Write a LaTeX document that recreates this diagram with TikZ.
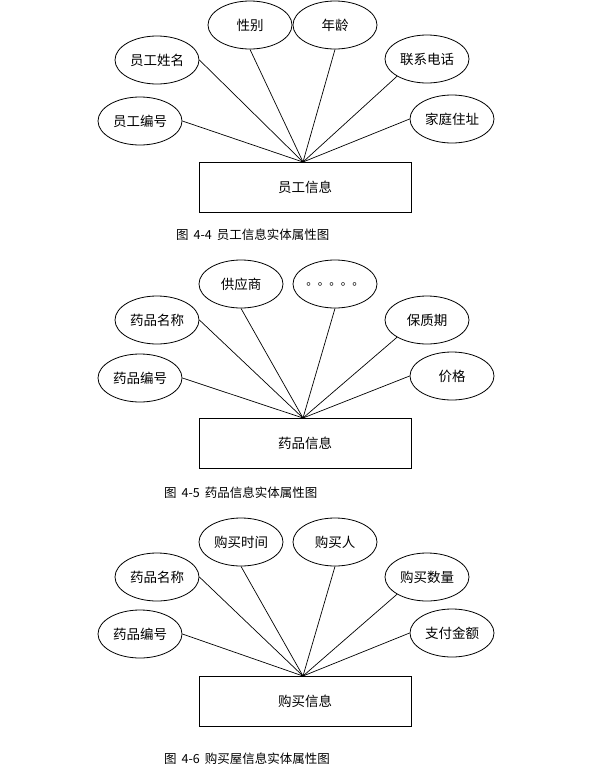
\documentclass[tikz,border=0pt]{standalone}
\usepackage{fontspec}
\newfontfamily\cjk{Noto Sans CJK SC}
\usetikzlibrary{shapes.geometric}
\begin{document}
\begin{tikzpicture}[x=1pt,y=-1pt,
  attr/.style={draw, ellipse, line width=0.8pt, minimum width=84pt, minimum height=48pt, inner sep=0pt, font=\cjk\fontsize{13.5}{14}\selectfont},
  ent/.style={draw, rectangle, line width=0.8pt, minimum width=212pt, minimum height=50pt, inner sep=0pt, font=\cjk\fontsize{13.5}{14}\selectfont},
  figcap/.style={anchor=west, inner sep=0pt, font=\cjk\fontsize{12.5}{13}\selectfont},
  conn/.style={line width=0.7pt}]
\useasboundingbox (0,0) rectangle (600,772);
\fill[white] (0,0) rectangle (600,772);

% ---------- Figure 4-4 ----------
\node[attr] (a1) at (250,25) {性别};
\node[attr] (a2) at (335,25) {年龄};
\node[attr] (a3) at (157,60) {员工姓名};
\node[attr] (a4) at (427,59) {联系电话};
\node[attr] (a5) at (140,121) {员工编号};
\node[attr] (a6) at (452,119) {家庭住址};
\node[ent] (e1) at (305,187) {员工信息};
\coordinate (p1) at (303,162);
\draw[conn] (a1.south) -- (p1);
\draw[conn] (a2.south) -- (p1);
\draw[conn] (a3.east) -- (p1);
\draw[conn] (a4.south west) -- (p1);
\draw[conn] (a5.east) -- (p1);
\draw[conn] (a6.west) -- (p1);
\node[figcap] (c1) at (176,235) {图\hspace{5pt}4-4\hspace{5pt}员工信息实体属性图};

% ---------- Figure 4-5 ----------
\node[attr] (b1) at (241,284) {供应商};
\node[attr, font=\cjk\fontsize{11.5}{12}\selectfont] (b2) at (335,284) {。。。。。};
\node[attr] (b3) at (157,320) {药品名称};
\node[attr] (b4) at (427,320) {保质期};
\node[attr] (b5) at (140,378) {药品编号};
\node[attr] (b6) at (452,376) {价格};
\node[ent] (e2) at (305,443) {药品信息};
\coordinate (p2) at (303,418);
\draw[conn] (b1.south) -- (p2);
\draw[conn] (b2.south) -- (p2);
\draw[conn] (b3.east) -- (p2);
\draw[conn] (b4.south west) -- (p2);
\draw[conn] (b5.east) -- (p2);
\draw[conn] (b6.west) -- (p2);
\node[figcap] (c2) at (164,493) {图\hspace{5pt}4-5\hspace{5pt}药品信息实体属性图};

% ---------- Figure 4-6 ----------
\node[attr] (d1) at (241,542) {购买时间};
\node[attr] (d2) at (335,542) {购买人};
\node[attr] (d3) at (157,577) {药品名称};
\node[attr] (d4) at (427,577) {购买数量};
\node[attr] (d5) at (140,634) {药品编号};
\node[attr] (d6) at (452,633) {支付金额};
\node[ent] (e3) at (305,701) {购买信息};
\coordinate (p3) at (303,676);
\draw[conn] (d1.south) -- (p3);
\draw[conn] (d2.south) -- (p3);
\draw[conn] (d3.east) -- (p3);
\draw[conn] (d4.south west) -- (p3);
\draw[conn] (d5.east) -- (p3);
\draw[conn] (d6.west) -- (p3);
\node[figcap] (c3) at (164,759) {图\hspace{5pt}4-6\hspace{5pt}购买屋信息实体属性图};
\end{tikzpicture}
\end{document}
